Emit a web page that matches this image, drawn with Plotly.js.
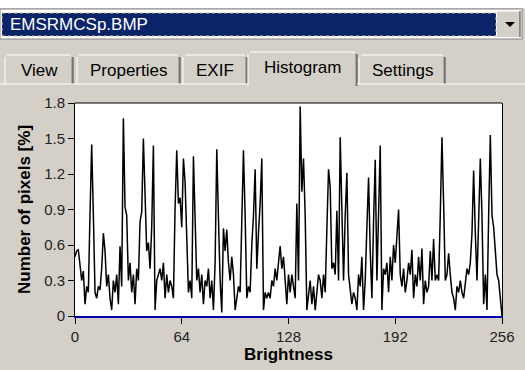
<!DOCTYPE html>
<html><head><meta charset="utf-8">
<script src="https://cdn.plot.ly/plotly-3.0.1.min.js"></script>
<style>html,body{margin:0;padding:0;background:#D4D0C8;}#chart{width:525px;height:370px;}</style>
</head><body><div id="chart"></div>
<script>
// Histogram values [% of pixels] for brightness levels 0..256
const brightness = Array.from({length: 257}, (_, i) => i);
const pixelsPct = [
 0.50,0.55,0.56,0.45,0.30,0.38,0.10,0.25,0.20,0.86,1.45,0.86,0.20,0.15,0.25,0.22,
 0.40,0.70,0.55,0.25,0.35,0.15,0.05,0.30,0.20,0.35,0.10,0.59,0.25,1.67,0.92,0.85,
 0.30,0.45,0.20,0.35,0.10,0.40,0.30,0.80,0.88,1.50,0.90,0.55,0.62,0.40,0.75,1.44,
 0.05,0.30,0.35,0.40,0.30,0.45,0.15,0.35,0.20,0.30,0.25,0.15,0.91,1.40,0.95,1.00,
 0.75,1.33,1.13,0.55,0.20,0.30,0.15,1.35,0.79,0.30,0.40,0.20,0.35,0.10,0.30,0.25,
 0.40,0.15,0.30,0.05,0.45,1.41,0.83,0.30,0.03,0.74,0.55,0.73,0.45,0.30,0.50,0.35,
 0.05,0.15,0.25,0.20,0.88,1.40,0.85,0.15,0.25,0.20,0.60,0.85,1.24,0.40,0.70,0.95,
 1.33,0.05,0.20,0.15,0.20,0.15,0.30,0.25,0.40,0.30,0.45,0.59,0.40,0.50,0.30,0.10,
 0.35,0.20,0.35,0.25,0.15,0.95,0.30,1.77,1.05,1.33,0.85,0.05,0.20,0.30,0.10,0.25,
 0.05,0.20,0.35,0.30,0.15,0.35,0.20,0.73,1.24,1.09,0.40,0.45,0.35,0.89,0.30,1.51,
 0.85,0.30,0.85,1.21,0.35,0.20,0.10,0.20,0.15,0.05,0.35,0.25,0.50,0.05,0.30,0.75,
 1.17,0.55,0.15,0.80,1.32,0.30,0.96,1.44,0.05,0.40,0.35,0.45,0.20,0.50,0.30,0.60,
 0.45,0.69,0.90,0.35,0.25,0.40,0.20,0.30,0.45,0.35,0.56,0.15,0.35,0.25,0.50,0.30,
 0.57,0.10,0.30,0.20,0.25,0.55,0.30,0.65,0.30,0.35,0.30,0.86,1.51,0.95,0.30,0.35,
 0.53,0.35,0.20,0.15,0.05,0.25,0.20,0.30,0.20,0.15,0.30,0.40,0.35,0.45,0.70,1.23,
 0.70,0.30,0.81,1.33,0.85,0.10,0.35,0.05,0.85,1.53,0.85,0.75,0.55,0.35,0.30,0.15,
 0.00
];
const xTickVals = [0, 64, 128, 192, 256];
const yTickVals = [0, 0.3, 0.6, 0.9, 1.2, 1.5, 1.8];
const yTickText = ["0", "0.3", "0.6", "0.9", "1.2", "1.5", "1.8"];
const fileName = "EMSRMCSp.BMP";
const tabNames = ["View", "Properties", "EXIF", "Histogram", "Settings"];

// pixel -> paper helpers (plot area: x 75..502, y 103..316)
const L = 75, R = 502, T = 103, B = 316;
const px = x => (x - L) / (R - L);
const py = y => (B - y) / (B - T);
const FONT = "Liberation Sans, Arial, sans-serif";

const shapes = [];
const annotations = [];
function rect(x0, y0, x1, y1, fill, line, lw, dash) {
  shapes.push({type: 'rect', xref: 'paper', yref: 'paper', x0: px(x0), x1: px(x1), y0: py(y1), y1: py(y0),
    fillcolor: fill, line: {color: line || 'rgba(0,0,0,0)', width: lw || 0, dash: dash || 'solid'}, layer: 'below'});
}
function seg(x0, y0, x1, y1, color, lw) {
  shapes.push({type: 'line', xref: 'paper', yref: 'paper', x0: px(x0), x1: px(x1), y0: py(y0), y1: py(y1),
    line: {color: color, width: lw || 1}, layer: 'below'});
}
function text(t, x, y, opts) {
  annotations.push(Object.assign({text: t, xref: 'paper', yref: 'paper', x: px(x), y: py(y), showarrow: false,
    xanchor: 'center', yanchor: 'middle', font: {family: FONT, size: 17, color: '#000'}}, opts || {}));
}

// white strip at top
rect(0, 0, 525, 8, '#FFFFFF');
// combo box
rect(0, 9, 522, 39, '#FFFFFF', '#808080', 1);
rect(2, 13, 496, 36, '#0A246A', '#D8C890', 1, 'dot');
rect(497, 11, 520, 37, '#D4D0C8');
seg(497, 11, 520, 11, '#FFFFFF', 1);
seg(520, 11, 520, 37, '#404040', 1);
shapes.push({type: 'path', xref: 'paper', yref: 'paper',
  path: `M ${px(505)} ${py(22)} L ${px(515)} ${py(22)} L ${px(510)} ${py(27)} Z`,
  fillcolor: '#000', line: {color: '#000', width: 0}, layer: 'above'});
text(fileName, 8, 24.5, {xanchor: 'left', font: {family: FONT, size: 17, color: '#FFFFFF'}});

// tabs
const tabBoxes = [[5, 73], [77, 180], [183, 247], [248, 357], [359, 445]];
tabBoxes.forEach(([a, b], i) => {
  const sel = i === 3;
  const top = sel ? 52 : 55;
  const bot = sel ? 86 : 84;
  rect(a, top, b, bot, '#D4D0C8');
  seg(a, bot, a, top + 2, '#FFFFFF', 1);
  seg(a + 2, top, b - 2, top, '#FFFFFF', 1);
  seg(b - 1, top + 2, b - 1, bot, '#808080', 1);
  seg(b, top + 2, b, bot, '#404040', 1);
  text(tabNames[i], (a + b) / 2, sel ? 67 : 70, {font: {family: FONT, size: 17, color: '#000'}});
});
// panel top highlight
seg(0, 84, 248, 84, '#FFFFFF', 1);
seg(357, 84, 525, 84, '#FFFFFF', 1);
// top border of plot frame
shapes.push({type: 'line', xref: 'paper', yref: 'paper', x0: 0, x1: 1, y0: 1, y1: 1, line: {color: '#000', width: 1}});

const trace = {
  x: brightness, y: pixelsPct, type: 'scatter', mode: 'lines',
  line: {color: '#000000', width: 1.5}, hoverinfo: 'skip'
};

const layout = {
  width: 525, height: 370,
  margin: {l: L, r: 525 - R, t: T, b: 370 - B, pad: 0},
  paper_bgcolor: '#D4D0C8', plot_bgcolor: '#FFFFFF',
  showlegend: false,
  xaxis: {
    range: [0, 256], tickvals: xTickVals, ticks: 'outside', ticklen: 6, tickcolor: '#000', tickwidth: 1,
    showgrid: false, zeroline: false, showline: true, linecolor: '#0000A8', linewidth: 2, mirror: false,
    tickfont: {family: FONT, size: 15, color: '#222'},
    title: {text: 'Brightness', font: {family: FONT, size: 17, color: '#000', weight: 'bold'}, standoff: 0}
  },
  yaxis: {
    range: [0, 1.8], tickvals: yTickVals, ticktext: yTickText, ticks: 'outside', ticklen: 6, tickcolor: '#000',
    showgrid: false, zeroline: false, showline: true, linecolor: '#000', linewidth: 1, mirror: true,
    tickfont: {family: FONT, size: 15, color: '#222'},
    title: {text: 'Number of pixels [%]', font: {family: FONT, size: 17, color: '#000', weight: 'bold'}, standoff: 9}
  },
  shapes: shapes,
  annotations: annotations
};

Plotly.newPlot('chart', [trace], layout, {displayModeBar: false, staticPlot: true});
</script></body></html>
